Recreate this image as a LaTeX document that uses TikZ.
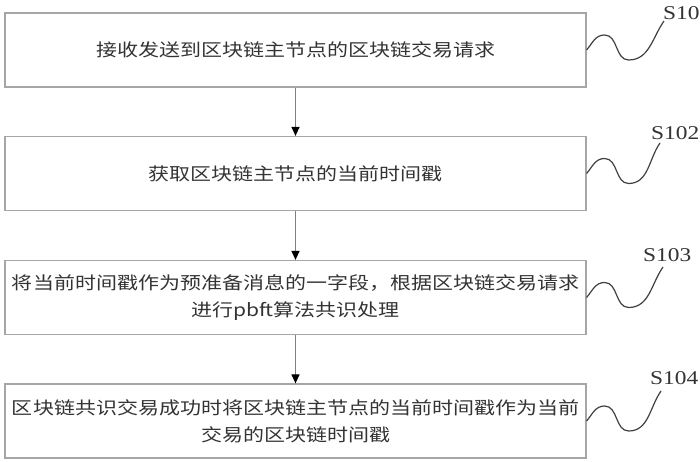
\documentclass[tikz,border=0pt]{standalone}
\usepackage{fontspec}
\setmainfont[FakeStretch=1.2]{Liberation Serif}
\newfontfamily\cjk[FakeStretch=1.2]{Noto Sans CJK SC}
\usetikzlibrary{arrows.meta}

\begin{document}
\begin{tikzpicture}[x=1pt, y=1pt,
  stepbox/.style={draw=gray!70, line width=1.2pt, minimum width=581pt, minimum height=74pt,
    inner sep=0pt, align=center, font=\cjk\fontsize{17.5}{27}\selectfont, text=black!80},
  flow/.style={draw=gray, line width=1.2pt, -{Triangle[black, length=9pt, width=8pt]}},
  wave/.style={draw=black!75, line width=1.2pt},
  steplabel/.style={anchor=west, inner sep=0pt, font=\fontsize{19.5}{19.5}\selectfont, text=black!80}]
  \useasboundingbox (0,0) rectangle (700,462);

  \node[stepbox] (b1) at (295.5,412) {接收发送到区块链主节点的区块链交易请求};
  \node[stepbox] (b2) at (295.5,288.5) {获取区块链主节点的当前时间戳};
  \node[stepbox] (b3) at (295.5,164.5) {将当前时间戳作为预准备消息的一字段，根据区块链交易请求\\进行pbft算法共识处理};
  \node[stepbox] (b4) at (295.5,41) {区块链共识交易成功时将区块链主节点的当前时间戳作为当前\\交易的区块链时间戳};

  \draw[flow] (b1) -- (b2);
  \draw[flow] (b2) -- (b3);
  \draw[flow] (b3) -- (b4);

  \node[steplabel] (l1) at (663,449) {S10};
  \node[steplabel] (l2) at (651,329) {S102};
  \node[steplabel] (l3) at (643,207) {S103};
  \node[steplabel] (l4) at (650,84) {S104};

  \draw[wave] (b1.east) to[out=50,in=180] ++(18,15) to[out=0,in=180] ++(24,-25)
    to[out=0,in=235] ([xshift=1pt,yshift=-8pt]l1.west);
  \draw[wave] (b2.east) to[out=50,in=180] ++(18,15) to[out=0,in=180] ++(24,-25)
    to[out=0,in=235] ([xshift=9pt,yshift=-10pt]l2.west);
  \draw[wave] (b3.east) to[out=50,in=180] ++(18,15) to[out=0,in=180] ++(24,-25)
    to[out=0,in=235] ([xshift=20pt,yshift=-12pt]l3.west);
  \draw[wave] (b4.east) to[out=50,in=180] ++(18,15) to[out=0,in=180] ++(24,-25)
    to[out=0,in=235] ([xshift=11pt,yshift=-13pt]l4.west);
\end{tikzpicture}
\end{document}
